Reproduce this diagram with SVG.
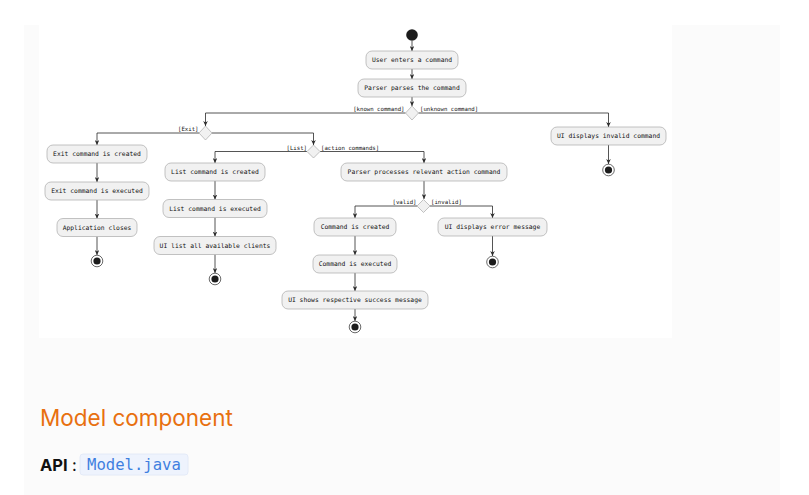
<svg xmlns="http://www.w3.org/2000/svg" width="809" height="495" viewBox="0 0 809 495">
<defs>
<style>
.box{fill:#f1f1f1;stroke:#a9a9a9;stroke-width:0.7}
.dia{fill:#f1f1f1;stroke:#a9a9a9;stroke-width:0.7}
.t{font-family:"DejaVu Sans Mono","Liberation Mono",monospace;font-size:6.35px;fill:#111;text-anchor:middle}
.lab{font-family:"DejaVu Sans Mono","Liberation Mono",monospace;font-size:5.7px;fill:#111}
.con{fill:none;stroke:#2a2a2a;stroke-width:0.8}
.endo{fill:#fff;stroke:#444;stroke-width:0.8}
.endi{fill:#1c1c1c}
</style>
<marker id="ah" markerUnits="userSpaceOnUse" markerWidth="5" markerHeight="4.6" refX="5" refY="2.3" orient="auto">
<path d="M0,0 L5,2.3 L0,4.6 L1.6,2.3 z" fill="#2a2a2a"/>
</marker>
</defs>
<rect x="0" y="0" width="809" height="495" fill="#ffffff"/>
<rect x="24" y="25" width="756" height="470" fill="#fbfbfb"/>
<rect x="39" y="25" width="633" height="313" fill="#ffffff"/>

<g id="connectors">
<path class="con" d="M412,41 V51" marker-end="url(#ah)"/>
<path class="con" d="M412,69 V79" marker-end="url(#ah)"/>
<path class="con" d="M412,97 V106" marker-end="url(#ah)"/>
<path class="con" d="M405.5,113 H205.5 V126" marker-end="url(#ah)"/>
<path class="con" d="M418.5,113 H608.5 V127" marker-end="url(#ah)"/>
<path class="con" d="M199,133 H97 V145" marker-end="url(#ah)"/>
<path class="con" d="M212,133 H313.5 V145" marker-end="url(#ah)"/>
<path class="con" d="M97,163 V182" marker-end="url(#ah)"/>
<path class="con" d="M97,200 V218.5" marker-end="url(#ah)"/>
<path class="con" d="M97,236.5 V255" marker-end="url(#ah)"/>
<path class="con" d="M307,151.5 H215 V163" marker-end="url(#ah)"/>
<path class="con" d="M320,151.5 H424 V163" marker-end="url(#ah)"/>
<path class="con" d="M215,181 V199.5" marker-end="url(#ah)"/>
<path class="con" d="M215,217.5 V236.5" marker-end="url(#ah)"/>
<path class="con" d="M215,254.5 V273" marker-end="url(#ah)"/>
<path class="con" d="M424,181 V199" marker-end="url(#ah)"/>
<path class="con" d="M417,206 H355 V218" marker-end="url(#ah)"/>
<path class="con" d="M430,206 H492.5 V218" marker-end="url(#ah)"/>
<path class="con" d="M355,236 V255" marker-end="url(#ah)"/>
<path class="con" d="M355,273 V291" marker-end="url(#ah)"/>
<path class="con" d="M355,309 V321" marker-end="url(#ah)"/>
<path class="con" d="M492.5,236 V256" marker-end="url(#ah)"/>
<path class="con" d="M608.5,145 V164" marker-end="url(#ah)"/>
<text class="lab" x="404.5" y="111" text-anchor="end">[known command]</text>
<text class="lab" x="420" y="111">[unknown command]</text>
<text class="lab" x="198.5" y="131" text-anchor="end">[Exit]</text>
<text class="lab" x="307" y="149.5" text-anchor="end">[List]</text>
<text class="lab" x="321" y="149.5">[action commands]</text>
<text class="lab" x="416.5" y="204" text-anchor="end">[valid]</text>
<text class="lab" x="431" y="204">[invalid]</text>
</g>

<g id="start"><circle cx="412" cy="35" r="5.8" fill="#1c1c1c"/></g>
<g id="n-user-enters"><rect class="box" x="366" y="51" width="92" height="18" rx="6"/><text class="t" x="412" y="62.3">User enters a command</text></g>
<g id="n-parser-parses"><rect class="box" x="358" y="79" width="108" height="18" rx="6"/><text class="t" x="412" y="90.3">Parser parses the command</text></g>
<g id="d-known"><polygon class="dia" points="412,106 418.5,113 412,120 405.5,113"/></g>
<g id="d-exit"><polygon class="dia" points="205.5,126 212,133 205.5,140 199,133"/></g>
<g id="d-list"><polygon class="dia" points="313.5,145 320,151.5 313.5,158 307,151.5"/></g>
<g id="d-valid"><polygon class="dia" points="423.5,199.5 430,206 423.5,212.5 417,206"/></g>

<g id="n-exit-created"><rect class="box" x="47" y="145" width="100" height="18" rx="6"/><text class="t" x="97" y="156.3">Exit command is created</text></g>
<g id="n-exit-executed"><rect class="box" x="45" y="182" width="104" height="18" rx="6"/><text class="t" x="97" y="193.3">Exit command is executed</text></g>
<g id="n-app-closes"><rect class="box" x="57" y="218.5" width="80" height="18" rx="6"/><text class="t" x="97" y="229.8">Application closes</text></g>
<g id="end-exit"><circle class="endo" cx="97" cy="261" r="5.8"/><circle class="endi" cx="97" cy="261" r="3.6"/></g>

<g id="n-list-created"><rect class="box" x="165" y="163" width="100" height="18" rx="6"/><text class="t" x="215" y="174.3">List command is created</text></g>
<g id="n-list-executed"><rect class="box" x="163" y="199.5" width="104" height="18" rx="6"/><text class="t" x="215" y="210.8">List command is executed</text></g>
<g id="n-ui-list"><rect class="box" x="154" y="236.5" width="122" height="18" rx="6"/><text class="t" x="215" y="247.8">UI list all available clients</text></g>
<g id="end-list"><circle class="endo" cx="215" cy="279" r="5.8"/><circle class="endi" cx="215" cy="279" r="3.6"/></g>

<g id="n-parser-processes"><rect class="box" x="341" y="163" width="166" height="18" rx="6"/><text class="t" x="424" y="174.3">Parser processes relevant action command</text></g>
<g id="n-cmd-created"><rect class="box" x="314" y="218" width="82" height="18" rx="6"/><text class="t" x="355" y="229.3">Command is created</text></g>
<g id="n-cmd-executed"><rect class="box" x="313" y="255" width="84" height="18" rx="6"/><text class="t" x="355" y="266.3">Command is executed</text></g>
<g id="n-ui-success"><rect class="box" x="282" y="291" width="146" height="18" rx="6"/><text class="t" x="355" y="302.3">UI shows respective success message</text></g>
<g id="end-success"><circle class="endo" cx="355" cy="327" r="5.8"/><circle class="endi" cx="355" cy="327" r="3.6"/></g>

<g id="n-ui-error"><rect class="box" x="438" y="218" width="109" height="18" rx="6"/><text class="t" x="492.5" y="229.3">UI displays error message</text></g>
<g id="end-error"><circle class="endo" cx="492.5" cy="262" r="5.8"/><circle class="endi" cx="492.5" cy="262" r="3.6"/></g>

<g id="n-ui-invalid"><rect class="box" x="551" y="127" width="115" height="18" rx="6"/><text class="t" x="608.5" y="138.3">UI displays invalid command</text></g>
<g id="end-invalid"><circle class="endo" cx="608.5" cy="170" r="5.8"/><circle class="endi" cx="608.5" cy="170" r="3.6"/></g>

<g id="doc-text">
<text x="40" y="426" font-family="Inter,'Liberation Sans',sans-serif" font-size="22.5" fill="#e8700f">Model component</text>
<text x="40" y="471" font-family="Inter,'Liberation Sans',sans-serif" font-size="16.5" font-weight="bold" fill="#111">API</text>
<text x="72" y="471" font-family="Inter,'Liberation Sans',sans-serif" font-size="16.5" fill="#111">:</text>
<rect x="80" y="454" width="108" height="21" rx="3" fill="#eef3fd" stroke="#dfe7f6" stroke-width="0.8"/>
<text x="87" y="470" font-family="'DejaVu Sans Mono','Liberation Mono',monospace" font-size="15.6" fill="#3f7fe0">Model.java</text>
</g>
</svg>
